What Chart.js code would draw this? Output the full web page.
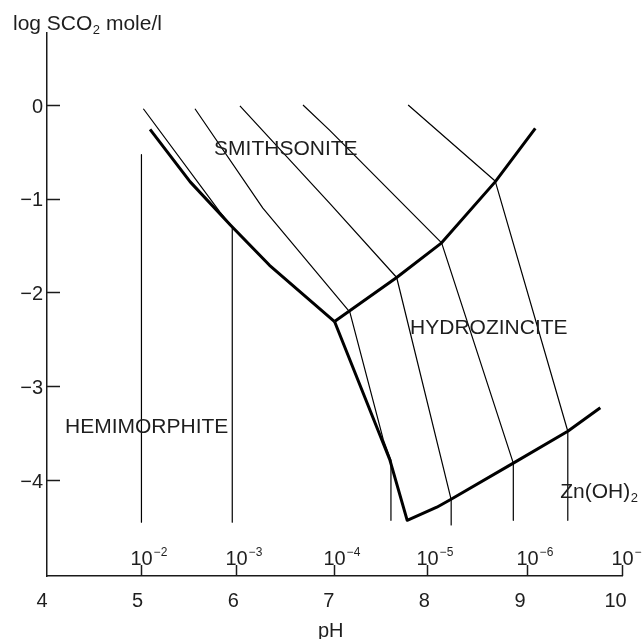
<!DOCTYPE html>
<html>
<head>
<meta charset="utf-8">
<script src="https://cdn.jsdelivr.net/npm/chart.js@4.4.1/dist/chart.umd.min.js"></script>
<style>
  html, body { margin: 0; padding: 0; background: #fff; }
  #wrap { width: 642px; height: 639px; position: relative; }
</style>
</head>
<body>
<div id="wrap"><canvas id="diagram"></canvas></div>
<script>
// axis ticks
const phTicks = [4, 5, 6, 7, 8, 9, 10];
const logTicks = [0, -1, -2, -3, -4];
// Zn activity marks along the pH axis: exponent of 10 and the pH where each sits
const znExponents = [-2, -3, -4, -5, -6, -7];
const znTickPh = [5.04, 6.03, 7.05, 8.03, 9.07, 10.07];

// thick phase boundaries, [pH, log SCO2]
const smithHemi = [[5.13, -0.26], [5.55, -0.82], [5.97, -1.28], [6.38, -1.71], [7.06, -2.31]];
const smithHydro = [[7.06, -2.31], [7.71, -1.84], [8.18, -1.47], [8.74, -0.82], [9.16, -0.25]];
const hemiHydroZn = [[7.06, -2.31], [7.64, -3.79], [7.82, -4.43], [8.13, -4.29], [8.27, -4.21],
  [8.93, -3.82], [9.50, -3.48], [9.84, -3.23]];

// thin solubility contours, one per Zn activity
const zn1e2 = [[5.04, -0.53], [5.04, -4.45]];
const zn1e3 = [[5.06, -0.04], [5.86, -1.14], [5.99, -1.30], [5.99, -4.45]];
const zn1e4 = [[5.60, -0.04], [6.31, -1.10], [7.22, -2.21], [7.57, -3.57], [7.65, -3.79], [7.65, -4.43]];
const zn1e5 = [[6.07, -0.01], [7.01, -1.05], [7.71, -1.84], [8.28, -4.21], [8.28, -4.48]];
const zn1e6 = [[6.73, 0.0], [7.01, -0.27], [8.18, -1.47], [8.93, -3.82], [8.93, -4.43]];
const zn1e7 = [[7.83, 0.0], [8.74, -0.81], [9.50, -3.48], [9.50, -4.43]];

// field names, anchored (left, baseline) in pH / log units
const fieldNames = ['SMITHSONITE', 'HYDROZINCITE', 'HEMIMORPHITE', 'Zn(OH)'];
const fieldPh = [5.80, 7.85, 4.24, 9.42];
const fieldLog = [-0.53, -2.44, -3.50, -4.19];

const FAMILY = '"Liberation Sans", Arial, Helvetica, sans-serif';
const INK = '#1e1e1e';
const font = (size) => size + 'px ' + FAMILY;

function lineSet(pts, width) {
  return {
    data: pts.map(([px, py]) => ({ x: px, y: py })),
    showLine: true,
    borderColor: '#000',
    borderWidth: width,
    borderJoinStyle: 'round',
    borderCapStyle: 'butt',
    pointRadius: 0,
    tension: 0,
    fill: false,
  };
}

// draw "text" + optional subscript, left aligned at baseline
function drawSub(ctx, main, sub, tail, x, y, size) {
  ctx.textAlign = 'left';
  ctx.textBaseline = 'alphabetic';
  ctx.font = font(size);
  ctx.fillText(main, x, y);
  let cx = x + ctx.measureText(main).width;
  if (sub) {
    ctx.font = font(Math.round(size * 0.6));
    ctx.fillText(sub, cx + 0.5, y + 4);
    cx += ctx.measureText(sub).width + 0.5;
  }
  if (tail) {
    ctx.font = font(size);
    ctx.fillText(tail, cx, y);
  }
}

const overlay = {
  id: 'overlay',
  afterDraw(chart) {
    const { ctx, chartArea, scales: { x, y } } = chart;
    ctx.save();
    ctx.strokeStyle = '#1a1a1a';
    ctx.fillStyle = INK;
    ctx.lineWidth = 1.5;

    // inward ticks on the log axis
    logTicks.forEach((v) => {
      const py = Math.round(y.getPixelForValue(v)) + 0.5;
      ctx.beginPath();
      ctx.moveTo(chartArea.left, py);
      ctx.lineTo(chartArea.left + 13, py);
      ctx.stroke();
    });

    // Zn activity marks standing on the pH axis
    znTickPh.forEach((p, i) => {
      const px = Math.round(x.getPixelForValue(p)) + 0.5;
      ctx.beginPath();
      ctx.moveTo(px, chartArea.bottom);
      ctx.lineTo(px, chartArea.bottom - 11);
      ctx.stroke();
      ctx.font = font(20);
      ctx.textAlign = 'center';
      ctx.textBaseline = 'alphabetic';
      ctx.fillText('10', px, chartArea.bottom - 11);
      const w = ctx.measureText('10').width;
      ctx.font = font(12);
      ctx.textAlign = 'left';
      ctx.fillText('\u2212' + Math.abs(znExponents[i]), px + w / 2 + 1, chartArea.bottom - 20);
    });

    // field names
    fieldNames.forEach((name, i) => {
      const px = x.getPixelForValue(fieldPh[i]);
      const py = y.getPixelForValue(fieldLog[i]);
      drawSub(ctx, name, name === 'Zn(OH)' ? '2' : '', '', px, py, 21);
    });

    // axis titles
    drawSub(ctx, 'log SCO', '2', ' mole/l', chartArea.left - 34, chartArea.top - 3, 21);
    ctx.font = font(20);
    ctx.textAlign = 'center';
    ctx.textBaseline = 'alphabetic';
    ctx.fillText('pH', x.getPixelForValue(7.02), chart.height - 2);
    ctx.restore();
  },
};

new Chart(document.getElementById('diagram'), {
  type: 'scatter',
  data: {
    datasets: [
      lineSet(zn1e2, 1.2),
      lineSet(zn1e3, 1.2),
      lineSet(zn1e4, 1.2),
      lineSet(zn1e5, 1.2),
      lineSet(zn1e6, 1.2),
      lineSet(zn1e7, 1.2),
      lineSet(smithHemi, 3),
      lineSet(smithHydro, 3),
      lineSet(hemiHydroZn, 3),
    ],
  },
  plugins: [overlay],
  options: {
    responsive: true,
    maintainAspectRatio: false,
    animation: false,
    layout: { padding: { top: 33, right: 20, left: 0, bottom: 0 } },
    plugins: { legend: { display: false }, tooltip: { enabled: false } },
    scales: {
      x: {
        type: 'linear',
        min: 4.052,
        max: 10.067,
        afterBuildTicks: (s) => { s.ticks = phTicks.map((v) => ({ value: v })); },
        afterFit: (s) => { s.height = 63; s.paddingLeft = 0; s.paddingRight = 0; },
        grid: { display: false, drawTicks: false },
        border: { display: true, color: '#1a1a1a', width: 1.5 },
        ticks: {
          autoSkip: false,
          maxRotation: 0,
          padding: 13,
          color: INK,
          font: { family: FAMILY, size: 20 },
          callback: (v) => String(v),
        },
      },
      y: {
        type: 'linear',
        min: -5.024,
        max: 0.768,
        afterBuildTicks: (s) => { s.ticks = logTicks.map((v) => ({ value: v })); },
        afterFit: (s) => { s.width = 47; s.paddingTop = 0; s.paddingBottom = 0; },
        grid: { display: false, drawTicks: false },
        border: { display: true, color: '#1a1a1a', width: 1.5 },
        ticks: {
          padding: 4,
          labelOffset: 2,
          color: INK,
          font: { family: FAMILY, size: 20 },
          callback: (v) => (v === 0 ? '0' : '\u2212' + Math.abs(v)),
        },
      },
    },
  },
});
</script>
</body>
</html>
